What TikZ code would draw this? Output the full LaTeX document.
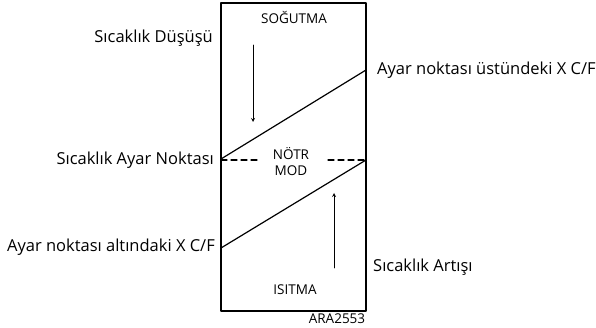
\documentclass[tikz,border=0pt]{standalone}
\usepackage{fontspec}
\setmainfont{Open Sans}
\usetikzlibrary{calc}
\usetikzlibrary{arrows}

\begin{document}
\begin{tikzpicture}[x=1pt, y=-1pt, line cap = round, line join = round, >=stealth]
\tikzstyle{etiket}=[font=\fontsize{16.5}{18}\selectfont, inner sep=0pt]
\tikzstyle{bolge}=[font=\fontsize{13.5}{16}\selectfont, inner sep=0pt, align=center]
\tikzstyle{cizgi}=[line width=1.2pt, color=black]
\useasboundingbox (0,0) rectangle (596,328);

\node[draw, cizgi, minimum width=145pt, minimum height=308pt, inner sep=0pt] (kutu) at (293.5,157) {};
\coordinate (ustSol) at (221,159);
\coordinate (ustSag) at (366,70);
\coordinate (altSol) at (221,248);
\coordinate (altSag) at (366,160);
\coordinate (ayarSol) at (221,160);
\coordinate (kesikA) at (259,160);
\coordinate (kesikB) at (328,160);

\node[bolge] (sogutma) at (294,17) {SOĞUTMA};
\node[bolge] (notr) at (291,162) {NÖTR\\MOD};
\node[bolge] (isitma) at (295,290) {ISITMA};
\node[bolge] (kod) at (337,319) {ARA2553};

\node[etiket, anchor=east] (dusus) at (213,38) {Sıcaklık Düşüşü};
\node[etiket, anchor=east] (ayar) at (214,160) {Sıcaklık Ayar Noktası};
\node[etiket, anchor=east] (alti) at (215,247) {Ayar noktası altındaki X C/F};
\node[etiket, anchor=west] (ustu) at (377,70) {Ayar noktası üstündeki X C/F};
\node[etiket, anchor=west] (artis) at (373,267) {Sıcaklık Artışı};

\draw[cizgi] (ustSol) -- (ustSag);
\draw[cizgi] (altSol) -- (altSag);
\draw[cizgi, dashed, dash pattern=on 6pt off 4pt] (ayarSol) -- (kesikA);
\draw[cizgi, dashed, dash pattern=on 6pt off 4pt] (kesikB) -- (altSag);

\coordinate (dusBas) at (253,45);
\coordinate (dusSon) at (253,122);
\coordinate (artBas) at (334,268);
\coordinate (artSon) at (334,193);
\draw[thick, ->] (dusBas) -- (dusSon);
\draw[thick, ->] (artBas) -- (artSon);
\end{tikzpicture}
\end{document}
